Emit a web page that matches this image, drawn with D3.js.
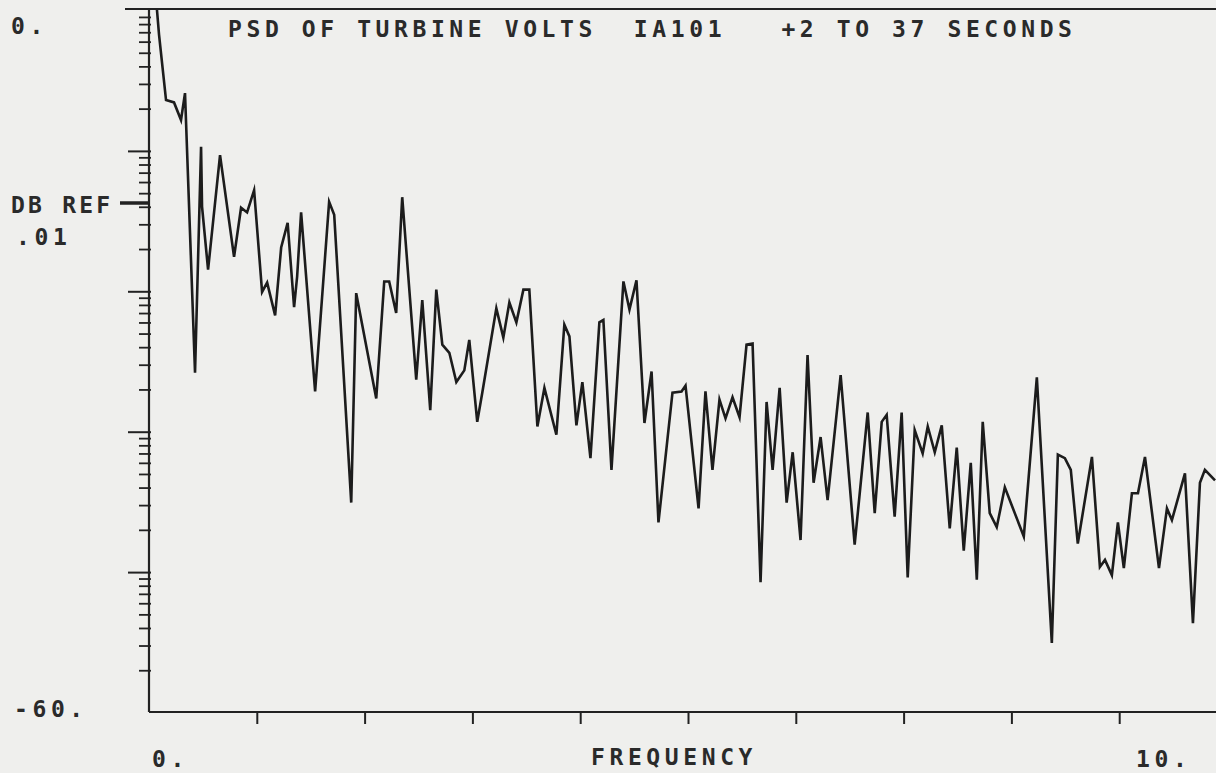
<!DOCTYPE html>
<html>
<head>
<meta charset="utf-8">
<script src="https://cdn.jsdelivr.net/npm/d3@7"></script>
<style>
  html, body { margin: 0; padding: 0; background: #efefed; }
  svg { display: block; }
  text { font-family: "DejaVu Sans Mono", "Liberation Mono", monospace; fill: #2a2a2a; white-space: pre; }
</style>
</head>
<body>
<div id="chart"></div>
<script>
// PSD of turbine volts (frequency, dB)
const freq = [
  0.074, 0.093, 0.158, 0.232, 0.297, 0.334, 0.427, 0.483, 0.492, 0.548,
  0.659, 0.789, 0.854, 0.910, 0.975, 1.049, 1.096, 1.170, 1.226, 1.286,
  1.346, 1.374, 1.411, 1.541, 1.671, 1.718, 1.876, 1.922, 2.108, 2.182,
  2.228, 2.293, 2.349, 2.479, 2.535, 2.609, 2.665, 2.721, 2.786, 2.851,
  2.925, 2.971, 3.045, 3.092, 3.222, 3.287, 3.343, 3.408, 3.473, 3.528,
  3.603, 3.668, 3.779, 3.853, 3.900, 3.965, 4.020, 4.095, 4.178, 4.215,
  4.290, 4.401, 4.457, 4.522, 4.596, 4.662, 4.726, 4.856, 4.940, 4.977,
  5.098, 5.162, 5.227, 5.292, 5.348, 5.413, 5.478, 5.543, 5.599, 5.673,
  5.729, 5.785, 5.850, 5.915, 5.971, 6.044, 6.109, 6.165, 6.230, 6.295,
  6.416, 6.546, 6.667, 6.732, 6.797, 6.843, 6.917, 6.982, 7.038, 7.103,
  7.177, 7.224, 7.289, 7.354, 7.428, 7.493, 7.558, 7.623, 7.679, 7.734,
  7.799, 7.864, 7.939, 8.115, 8.236, 8.375, 8.431, 8.496, 8.551, 8.616,
  8.747, 8.821, 8.868, 8.932, 8.988, 9.043, 9.118, 9.174, 9.239, 9.369,
  9.443, 9.489, 9.610, 9.684, 9.749, 9.795, 9.889
];
const db = [
  0.0, -2.1, -7.7, -7.9, -9.4, -7.1, -31.0, -11.7, -16.8, -22.2,
  -12.4, -21.1, -16.9, -17.3, -15.4, -24.1, -23.3, -26.1, -20.3, -18.2,
  -25.4, -22.8, -17.3, -32.6, -16.4, -17.5, -42.1, -24.2, -33.2, -23.2,
  -23.2, -25.9, -16.0, -31.6, -24.8, -34.2, -23.9, -28.6, -29.3, -31.8,
  -30.8, -28.2, -35.2, -32.7, -25.5, -28.0, -25.0, -26.7, -23.9, -23.9,
  -35.6, -32.3, -36.3, -26.9, -27.9, -35.5, -31.8, -38.3, -26.7, -26.5,
  -39.3, -23.2, -25.6, -23.1, -35.3, -30.9, -43.8, -32.7, -32.6, -32.1,
  -42.6, -32.6, -39.3, -33.3, -34.9, -33.1, -34.8, -28.6, -28.5, -48.9,
  -33.5, -39.3, -32.3, -42.1, -37.8, -45.3, -29.5, -40.4, -36.5, -41.9,
  -31.2, -45.7, -34.4, -43.0, -35.2, -34.6, -43.3, -34.4, -48.5, -35.9,
  -37.9, -35.6, -37.8, -35.5, -44.3, -37.4, -46.2, -38.7, -48.7, -35.2,
  -43.0, -44.2, -40.8, -45.0, -31.4, -54.1, -38.0, -38.3, -39.3, -45.6,
  -38.2, -47.6, -47.0, -48.3, -43.8, -47.7, -41.3, -41.3, -38.2, -47.7,
  -42.6, -43.6, -39.6, -52.4, -40.4, -39.3, -40.2
];

// axis setup
const xDomain = [0, 10];
const yDomain = [-60, 0];
const xTickValues = [1, 2, 3, 4, 5, 6, 7, 8, 9];
const yMajorValues = [0, -12, -24, -36, -48, -60];
const minorSteps = [2, 3, 4, 5, 6, 7, 8, 9];

const title = "PSD OF TURBINE VOLTS  IA101   +2 TO 37 SECONDS";
const xTitle = "FREQUENCY";
const xEndLabels = ["0.", "10."];
const yEndLabels = ["0.", "-60."];
const yRefLabel = ["DB REF", ".01"];

const width = 1216, height = 773;
const plotLeft = 149, plotTop = 10, plotBottom = 712, plotRight = 1227;

const svg = d3.select('#chart')
    .append('svg')
    .attr('width', width)
    .attr('height', height);

const x = d3.scaleLinear().domain(xDomain).range([plotLeft, plotRight]);
const y = d3.scaleLinear().domain(yDomain).range([plotBottom, plotTop]);

const ink = '#222';

// top frame line
svg.append('line')
    .attr('x1', 125).attr('x2', width)
    .attr('y1', y(0) - 1).attr('y2', y(0) - 1)
    .attr('stroke', ink).attr('stroke-width', 2.2);

// y axis line
svg.append('line')
    .attr('x1', plotLeft).attr('x2', plotLeft)
    .attr('y1', y(0) - 1).attr('y2', plotBottom)
    .attr('stroke', ink).attr('stroke-width', 2.2);

// x axis with down ticks
const xAxis = d3.axisBottom(x)
    .tickValues(xTickValues)
    .tickSize(12)
    .tickFormat('');
const gx = svg.append('g')
    .attr('transform', `translate(0,${plotBottom})`)
    .call(xAxis);
gx.select('.domain').remove();
gx.selectAll('.tick line').attr('stroke', ink).attr('stroke-width', 2);
svg.append('line')
    .attr('x1', plotLeft).attr('x2', width)
    .attr('y1', plotBottom).attr('y2', plotBottom)
    .attr('stroke', ink).attr('stroke-width', 2.2);

// y axis: major ticks with log style minor ticks per decade
const yMinorValues = [];
for (let i = 0; i < yMajorValues.length - 1; i++) {
    const upper = yMajorValues[i], lower = yMajorValues[i + 1];
    const dec = d3.scaleLog().domain([1, 10]).range([lower, upper]);
    minorSteps.forEach(v => yMinorValues.push(dec(v)));
}
svg.append('g').selectAll('line.major')
    .data(yMajorValues.slice(1, -1))
    .enter().append('line')
    .attr('x1', plotLeft - 21).attr('x2', plotLeft + 2)
    .attr('y1', d => y(d) + 1).attr('y2', d => y(d) + 1)
    .attr('stroke', ink).attr('stroke-width', 2);
svg.append('g').selectAll('line.minor')
    .data(yMinorValues)
    .enter().append('line')
    .attr('x1', plotLeft - 10).attr('x2', plotLeft + 2)
    .attr('y1', d => y(d) + 1).attr('y2', d => y(d) + 1)
    .attr('stroke', ink).attr('stroke-width', 1.8);

// reference arrow next to "DB REF"
svg.append('line')
    .attr('x1', 120).attr('x2', plotLeft)
    .attr('y1', 203).attr('y2', 203)
    .attr('stroke', ink).attr('stroke-width', 3.5);

// data line
svg.append('clipPath').attr('id', 'plot-clip')
    .append('rect')
    .attr('x', plotLeft).attr('y', plotTop - 2)
    .attr('width', width - plotLeft).attr('height', plotBottom - plotTop + 2);

const points = freq.map((f, i) => [f, db[i]]);
const line = d3.line()
    .x(d => x(d[0]))
    .y(d => y(d[1]));

svg.append('path')
    .datum(points)
    .attr('clip-path', 'url(#plot-clip)')
    .attr('d', line)
    .attr('fill', 'none')
    .attr('stroke', '#1c1c1c')
    .attr('stroke-width', 2.6)
    .attr('stroke-linejoin', 'miter')
    .attr('stroke-miterlimit', 6);

// texts
function label(str, px, py, spacing) {
    return svg.append('text')
        .attr('x', px).attr('y', py)
        .attr('font-size', 23)
        .attr('font-weight', 'bold')
        .attr('letter-spacing', spacing === undefined ? 4.6 : spacing)
        .text(str);
}

label(title, 228, 37);
label(xTitle, 591, 765);
label(xEndLabels[0], x(0) + 3, 767);
label(xEndLabels[1], 1136, 767);
label(yEndLabels[0], 11, 34);
label(yEndLabels[1], 14, 717);
label(yRefLabel[0], 11, 213, 3.2);
label(yRefLabel[1], 16, 245);
</script>
</body>
</html>
